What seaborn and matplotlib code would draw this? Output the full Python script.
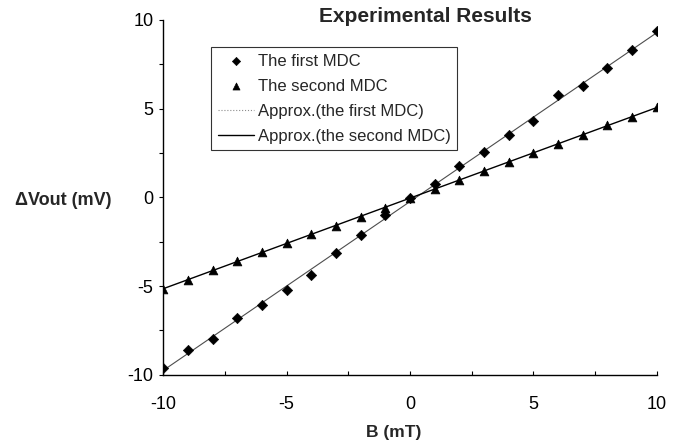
import numpy as np
import pandas as pd
import matplotlib
matplotlib.use("Agg")
import matplotlib.pyplot as plt
import seaborn as sns

B = [-10, -9, -8, -7, -6, -5, -4, -3, -2, -1, 0, 1, 2, 3, 4, 5, 6, 7, 8, 9, 10]
first_mdc = [-9.6, -8.6, -8.0, -6.8, -6.05, -5.2, -4.4, -3.15, -2.1, -1.0, -0.05,
             0.75, 1.75, 2.55, 3.5, 4.3, 5.75, 6.3, 7.3, 8.3, 9.4]
second_mdc = [-5.15, -4.65, -4.1, -3.6, -3.1, -2.58, -2.07, -1.6, -1.1, -0.6, -0.05,
              0.45, 1.0, 1.5, 2.0, 2.5, 3.0, 3.5, 4.05, 4.55, 5.1]
x_ticks = [-10, -5, 0, 5, 10]
y_ticks = [-10, -5, 0, 5, 10]

sns.set_theme(style="white")
plt.rcParams['font.family'] = ['Liberation Sans', 'DejaVu Sans']

df = pd.DataFrame({"B": B, "first": first_mdc, "second": second_mdc})
p1 = np.polyfit(B, first_mdc, 1)
p2 = np.polyfit(B, second_mdc, 1)
fit_x = np.array([-10, 10])
fit_df = pd.DataFrame({"B": fit_x, "f1": np.polyval(p1, fit_x), "f2": np.polyval(p2, fit_x)})

fig = plt.figure(figsize=(6.77, 4.42), dpi=100)
ax = fig.add_axes([0.241, 0.152, 0.729, 0.803])

sns.lineplot(data=fit_df, x="B", y="f1", ax=ax, color="0.3", lw=0.8,
             label="Approx.(the first MDC)", zorder=2)
sns.lineplot(data=fit_df, x="B", y="f2", ax=ax, color="black", lw=1.0,
             label="Approx.(the second MDC)", zorder=2)
sns.scatterplot(data=df, x="B", y="first", ax=ax, marker="D", s=28, color="black",
                edgecolor="black", label="The first MDC", zorder=3)
sns.scatterplot(data=df, x="B", y="second", ax=ax, marker="^", s=40, color="black",
                edgecolor="black", label="The second MDC", zorder=3)

ax.set_xlim(-10, 10)
ax.set_ylim(-10, 10)
ticks = np.arange(-10, 10.1, 2.5)
ax.set_xticks(ticks)
ax.set_xticklabels([str(int(v)) if v in x_ticks else "" for v in ticks])
ax.set_yticks(ticks)
ax.set_yticklabels([str(int(v)) if v in y_ticks else "" for v in ticks])
ax.tick_params(axis="x", direction="in", length=3, width=0.8, labelsize=13, pad=15, colors="black")
ax.tick_params(axis="y", direction="out", length=3, width=0.8, labelsize=13, pad=4, colors="black")
ax.tick_params(left=True, bottom=True)
for s in ["top", "right"]:
    ax.spines[s].set_visible(False)
for s in ["left", "bottom"]:
    ax.spines[s].set_color("black")
    ax.spines[s].set_linewidth(1.0)

ax.set_xlabel("")
ax.set_ylabel("")
fig.text(394/677, 1 - 433/442, "B (mT)", fontsize=12.5, fontweight="bold", ha="center", va="center")
fig.text(0.022, 1 - 201/442, "\u0394Vout (mV)", fontsize=13, fontweight="bold", ha="left", va="center")
fig.text(425/677, 1 - 17/442, "Experimental Results", fontsize=15, fontweight="bold",
         ha="center", va="center")

handles, labels = ax.get_legend_handles_labels()
order = [labels.index(l) for l in ["The first MDC", "The second MDC",
                                   "Approx.(the first MDC)", "Approx.(the second MDC)"]]
leg = ax.legend([handles[i] for i in order], [labels[i] for i in order],
                loc="upper left", bbox_to_anchor=((211 - 163) / 494, (375 - 47) / 355),
                frameon=True, fancybox=False, edgecolor="black", fontsize=12,
                handlelength=2.2, borderpad=0.4, labelspacing=0.6, handletextpad=0.2,
                borderaxespad=0, markerscale=0.8)
leg.get_frame().set_linewidth(0.8)
leg_lines = leg.get_lines()
if len(leg_lines) >= 1:
    leg_lines[0].set_linestyle(":")
    leg_lines[0].set_color("0.55")

fig.savefig("out.png", dpi=100, facecolor="white")
